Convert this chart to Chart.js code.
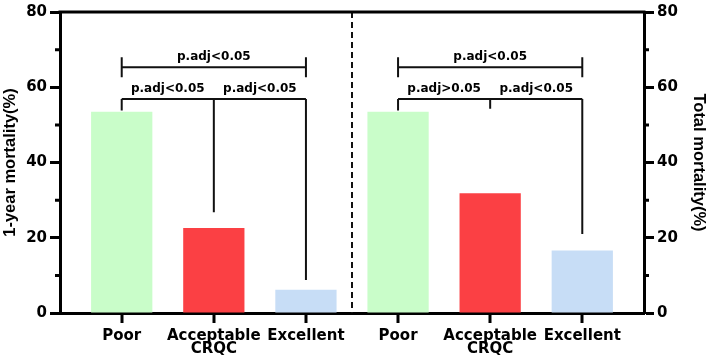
<!DOCTYPE html>
<html>
<head>
<meta charset="utf-8">
<script src="https://cdn.jsdelivr.net/npm/chart.js@4.4.1/dist/chart.umd.min.js"></script>
<style>
    html, body {margin: 0; padding: 0; background: #fff;}
</style>
</head>
<body>
<canvas id="myChart" width="708" height="357"></canvas>
<script>
const categories = ['Poor', 'Acceptable', 'Excellent'];
const groupTitle = 'CRQC';
const oneYearMortality = [53.5, 22.6, 6.2];
const totalMortality = [53.5, 31.8, 16.6];
const barColors = ['#c9fdc9', '#fb4044', '#c7ddf6'];
const yMinorTicks = [10, 30, 50, 70];

// p values: [first vs last, first vs second, second vs third]
const oneYearP = ['p.adj<0.05', 'p.adj<0.05', 'p.adj<0.05'];
const totalP = ['p.adj<0.05', 'p.adj>0.05', 'p.adj<0.05'];
const topBracketY = 65.3;
const lowerBracketY = 56.9;
const oneYearDrops = [53.8, 26.8, 8.8];
const totalDrops = [53.8, 54.3, 21.0];

const ctx = document.getElementById('myChart');
const tickFont = {family: 'DejaVu Sans', weight: 'bold', size: 15};
const titleFont = {family: 'Liberation Sans', weight: 'bold', size: 16.5};
const xPositions = categories.concat(categories).map((c, i) => i + 1);

const bracketPlugin = {
    id: 'brackets',
    afterDatasetsDraw(chart) {
        const c = chart.ctx, x = chart.scales.x, area = chart.chartArea;
        c.save();
        c.strokeStyle = '#111';

        // dashed divider between the two groups
        const xd = x.getPixelForValue(categories.length + 0.5);
        c.lineWidth = 2;
        c.setLineDash([6, 4]);
        c.beginPath();
        c.moveTo(xd, area.top);
        c.lineTo(xd, area.bottom);
        c.stroke();
        c.setLineDash([]);

        // top frame, x tick marks, minor y ticks
        c.strokeStyle = '#000';
        c.lineWidth = 3;
        c.beginPath();
        c.moveTo(area.left - 1.5, area.top);
        c.lineTo(area.right + 1.5, area.top);
        xPositions.forEach(v => {
            const px = Math.round(x.getPixelForValue(v));
            c.moveTo(px, area.bottom);
            c.lineTo(px, area.bottom + 10);
        });
        yMinorTicks.forEach(v => {
            const py = chart.scales.y.getPixelForValue(v);
            c.moveTo(area.left - 5, py);
            c.lineTo(area.left, py);
            const py2 = chart.scales.y2.getPixelForValue(v);
            c.moveTo(area.right, py2);
            c.lineTo(area.right + 5, py2);
        });
        c.stroke();

        drawGroup(chart, chart.scales.y, 1, oneYearDrops, oneYearP);
        drawGroup(chart, chart.scales.y2, categories.length + 1, totalDrops, totalP);
        c.restore();
    }
};

function drawGroup(chart, ys, start, drops, pv) {
    const c = chart.ctx, x = chart.scales.x;
    const xs = drops.map((d, i) => x.getPixelForValue(start + i));
    const yTop = ys.getPixelForValue(topBracketY), yLow = ys.getPixelForValue(lowerBracketY);
    c.strokeStyle = '#111';
    c.lineWidth = 2;
    c.beginPath();
    c.moveTo(xs[0], yTop);
    c.lineTo(xs[2], yTop);
    c.moveTo(xs[0], yTop - 10);
    c.lineTo(xs[0], yTop + 10);
    c.moveTo(xs[2], yTop - 10);
    c.lineTo(xs[2], yTop + 10);
    c.moveTo(xs[0], yLow);
    c.lineTo(xs[2], yLow);
    for (let i = 0; i < 3; i++) {
        c.moveTo(xs[i], yLow);
        c.lineTo(xs[i], ys.getPixelForValue(drops[i]));
    }
    c.stroke();

    c.fillStyle = '#000';
    c.font = 'bold 12px "DejaVu Sans"';
    c.textAlign = 'center';
    c.textBaseline = 'alphabetic';
    c.fillText(pv[0], (xs[0] + xs[2]) / 2, yTop - 7);
    c.fillText(pv[1], (xs[0] + xs[1]) / 2, yLow - 7);
    c.fillText(pv[2], (xs[1] + xs[2]) / 2, yLow - 7);
}

const yAxis = (pos, title, width, titlePad) => ({
    position: pos, min: 0, max: 80,
    afterFit: s => { s.width = width; },
    ticks: {stepSize: 20, padding: 3, color: '#000', font: tickFont},
    grid: {drawOnChartArea: false, tickLength: 10, tickWidth: 3, color: '#000'},
    border: {width: 3, color: '#000'},
    title: {display: true, text: title, color: '#000', font: titleFont, padding: titlePad}
});

new Chart(ctx, {
    type: 'bar',
    data: {
        datasets: [
            {label: '1-year mortality(%)', data: oneYearMortality.map((v, i) => ({x: i + 1, y: v})), backgroundColor: barColors, yAxisID: 'y'},
            {label: 'Total mortality(%)', data: totalMortality.map((v, i) => ({x: i + categories.length + 1, y: v})), backgroundColor: barColors, yAxisID: 'y2'}
        ]
    },
    options: {
        responsive: false,
        animation: false,
        layout: {padding: {top: 7}},
        plugins: {legend: {display: false}, tooltip: {enabled: false}},
        datasets: {bar: {grouped: false, categoryPercentage: 1, barPercentage: 0.665}},
        scales: {
            x: {
                type: 'linear', min: 0.33, max: 6.67, offset: false,
                afterBuildTicks: s => { s.ticks = xPositions.map(v => ({value: v})); },
                afterFit: s => { s.height = 44; },
                grid: {display: false},
                border: {display: true, width: 3, color: '#000'},
                ticks: {
                    autoSkip: false, maxRotation: 0, padding: 9, color: '#000',
                    font: {family: 'DejaVu Sans', weight: 'bold', size: 15, lineHeight: 0.87},
                    callback: v => {
                        const idx = (Math.round(v) - 1) % categories.length;
                        return idx === 1 ? [categories[idx], groupTitle] : categories[idx];
                    }
                }
            },
            y: yAxis('left', '1-year mortality(%)', 60, {top: 1}),
            y2: yAxis('right', 'Total mortality(%)', 64, {top: 0, bottom: 0})
        }
    },
    plugins: [bracketPlugin]
});
</script>
</body>
</html>
